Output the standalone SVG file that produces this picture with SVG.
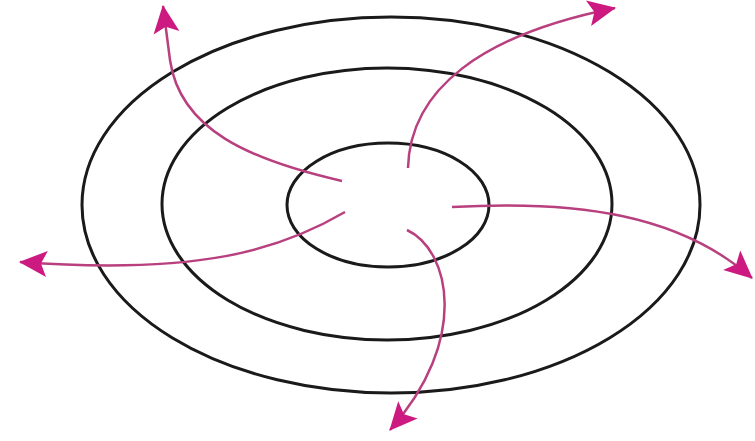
<svg xmlns="http://www.w3.org/2000/svg" width="755" height="441" viewBox="0 0 755 441">
<defs>
<style>
.ring{fill:none;stroke:#1a1a1a;stroke-width:3}
.arr{fill:none;stroke:#b8407e;stroke-width:2.5;marker-end:url(#head)}
</style>
<marker id="head" viewBox="0 0 12 10" refX="11" refY="5" markerWidth="12" markerHeight="10" markerUnits="userSpaceOnUse" orient="auto" overflow="visible">
<path d="M-16,-8 L12,5 L-16,18 L-10,5 Z" fill="#cc1a80"/>
</marker>
</defs>
<rect width="755" height="441" fill="#ffffff"/>
<g id="outer"><ellipse class="ring" cx="391" cy="205" rx="309" ry="188"/></g>
<g id="middle"><ellipse class="ring" cx="387" cy="204" rx="225" ry="136"/></g>
<g id="inner"><ellipse class="ring" cx="388" cy="205" rx="101" ry="62"/></g>
<g id="connectors">
<path class="arr" d="M342,181 C250,160 180,130 170,60 L163,6"/>
<path class="arr" d="M408,168 C410,90 480,35 615,8"/>
<path class="arr" d="M345,212 C280,250 200,275 20,262"/>
<path class="arr" d="M452,207 C580,200 680,215 752,278"/>
<path class="arr" d="M407,230 C450,250 470,340 390,430"/>
</g>
</svg>
